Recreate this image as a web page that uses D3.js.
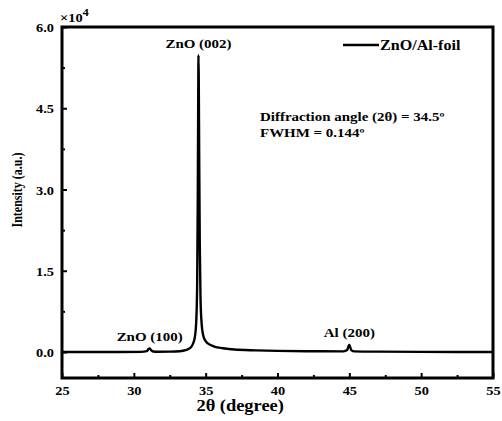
<!DOCTYPE html>
<html>
<head>
<meta charset="utf-8">
<script src="https://cdn.jsdelivr.net/npm/d3@7"></script>
<style>
  body { margin: 0; background: #fff; }
  svg text { font-family: "Liberation Serif", "Times New Roman", serif; font-weight: bold; fill: #000; }
</style>
</head>
<body>
<div id="chart"></div>
<script>
// XRD pattern, ZnO on Al foil
const twoTheta = [25, 27, 29, 30.5, 30.9, 31.02, 31.1, 31.2, 31.35, 31.7, 32.5, 33.2, 33.6, 33.9, 34.1, 34.25, 34.35, 34.41, 34.45, 34.48, 34.5, 34.52, 34.55, 34.59, 34.64, 34.72, 34.82, 34.95, 35.2, 35.6, 36.2, 37, 38.5, 40, 42, 44.6, 44.85, 44.95, 45.0, 45.06, 45.15, 45.35, 47, 50, 55];
const intensity = [0, 0, 0, 30, 150, 550, 650, 350, 100, 40, 60, 150, 350, 700, 1400, 2800, 6000, 13000, 28000, 46000, 54800, 50000, 36000, 20000, 10000, 5200, 3200, 2200, 1500, 1000, 700, 450, 300, 200, 150, 120, 350, 1100, 1300, 900, 300, 110, 60, 30, 0];

const xTicks = [25, 30, 35, 40, 45, 50, 55];
const xMinor = [27.5, 32.5, 37.5, 42.5, 47.5, 52.5];
const yTicks = [0, 15000, 30000, 45000, 60000];
const yMinor = [7500, 22500, 37500, 52500];
const peakLabels = [
  { text: "ZnO (100)", x: 31.1, y: 2000 },
  { text: "ZnO (002)", x: 34.5, y: 56100 },
  { text: "Al (200)", x: 45.0, y: 2750 }
];
const seriesName = "ZnO/Al-foil";
const noteLines = ["Diffraction angle (2\u03b8) = 34.5\u00ba", "FWHM = 0.144\u00ba"];

const W = 502, H = 421;
const margin = { left: 62, top: 27, right: 9, bottom: 43 };
const iw = W - margin.left - margin.right;
const ih = H - margin.top - margin.bottom;
const SX = 1.15; // the original text is a little wider than tall

const svg = d3.select("#chart").append("svg")
  .attr("width", W).attr("height", H);

const x = d3.scaleLinear().domain([25, 55]).range([0, iw]);
const y = d3.scaleLinear().domain([-4800, 60000]).range([ih, 0]);

const g = svg.append("g").attr("transform", `translate(${margin.left},${margin.top})`);

function label(parent, px, py, str, size, anchor) {
  return parent.append("text")
    .attr("transform", `translate(${px},${py}) scale(${SX},1)`)
    .attr("text-anchor", anchor || "start")
    .style("font-size", size + "px")
    .text(str);
}

g.append("g").attr("transform", `translate(0,${ih})`)
  .call(d3.axisBottom(x).tickValues(xTicks).tickSize(-5).tickPadding(0).tickFormat(d3.format("d")))
  .call(s => s.selectAll(".tick text").attr("y", 17).attr("dy", 0));
g.append("g").attr("transform", `translate(0,${ih})`)
  .call(d3.axisBottom(x).tickValues(xMinor).tickSize(-3).tickFormat(""));

g.append("g")
  .call(d3.axisLeft(y).tickValues(yTicks).tickSize(-5).tickPadding(7).tickFormat(d => (d / 10000).toFixed(1)))
  .call(s => s.selectAll(".tick text").attr("dy", "0.36em"));
g.append("g")
  .call(d3.axisLeft(y).tickValues(yMinor).tickSize(-3).tickFormat(""));

g.selectAll(".tick line").attr("stroke", "#000").attr("stroke-width", 2);
g.selectAll(".domain").remove();
g.selectAll(".tick text").style("font-size", "12.5px").attr("transform", `scale(${SX},1)`);

// frame
g.append("rect").attr("x", 0).attr("y", 0).attr("width", iw).attr("height", ih)
  .attr("fill", "none").attr("stroke", "#000").attr("stroke-width", 3);

// data line
const pts = twoTheta.map((t, i) => [t, intensity[i]]);
g.append("path").datum(pts)
  .attr("fill", "none").attr("stroke", "#000").attr("stroke-width", 2.4)
  .attr("stroke-linejoin", "round")
  .attr("d", d3.line().x(d => x(d[0])).y(d => y(d[1])).curve(d3.curveMonotoneX));

// peak labels
peakLabels.forEach(d => label(g, x(d.x), y(d.y), d.text, 13, "middle"));

// legend
g.append("line").attr("x1", 281).attr("x2", 317).attr("y1", 18).attr("y2", 18)
  .attr("stroke", "#000").attr("stroke-width", 2.4);
label(g, 318, 23, seriesName, 14);

// note
noteLines.forEach((t, i) => label(g, 198, 94 + i * 16, t, 13));

// exponent
const ex = svg.append("text").attr("transform", `translate(60,22) scale(${SX},1)`).style("font-size", "12.5px");
ex.append("tspan").text("\u00d710");
ex.append("tspan").attr("dy", -6).style("font-size", "11px").text("4");

// axis titles
label(svg, margin.left + x(37.4), 411, "2\u03b8 (degree)", 16, "middle");
svg.append("text").attr("transform", `translate(22,190) rotate(-90) scale(0.8,1)`)
  .attr("text-anchor", "middle").style("font-size", "15px").text("Intensity (a.u.)");
</script>
</body>
</html>
